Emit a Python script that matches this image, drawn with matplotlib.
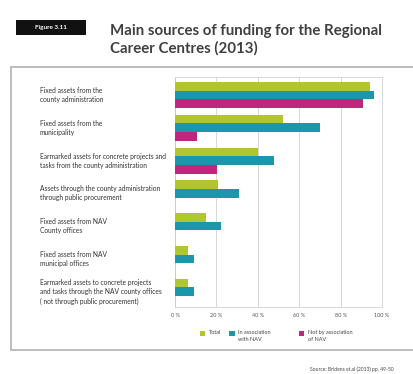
import matplotlib
matplotlib.use("Agg")
import matplotlib.pyplot as plt
from matplotlib.patches import Rectangle
from matplotlib.lines import Line2D
import numpy as np

categories = [
    "Fixed assets from the\ncounty administration",
    "Fixed assets from the\nmunicipality",
    "Earmarked assets for concrete projects and\ntasks from the county administration",
    "Assets through the county administration\nthrough public procurement",
    "Fixed assets from NAV\nCounty offices",
    "Fixed assets from NAV\nmunicipal offices",
    "Earmarked assets to concrete projects\nand tasks through the NAV county offices\n( not through public procurement)",
]
total = [94, 52, 40, 21, 15, 6.5, 6.5]
with_nav = [96, 70, 48, 31, 22, 9, 9]
not_nav = [91, 10.5, 20.5, 0, 0, 0, 0]
series_names = ["Total", "In association\nwith NAV", "Not by association\nof NAV"]
tick_values = [0, 20, 40, 60, 80, 100]
tick_labels = ["0 %", "20 %", "40 %", "60 %", "80 %", "100 %"]

colors = ["#b3c52c", "#1a97aa", "#c1267f"]
W, H = 414, 374
FONT = "Lato"

fig = plt.figure(figsize=(W / 100, H / 100), dpi=100)
fig.patch.set_facecolor("white")


def fx(px):
    return px / W


def fy(py):
    return 1 - py / H


# Outer frame: left, top and bottom edges (right edge runs past the page)
frame_xy = [([11, 414], [66.5, 66.5]), ([11, 11], [66.5, 350]), ([11, 414], [350, 350])]
for xs, ys in frame_xy:
    fig.add_artist(Line2D([fx(v) for v in xs], [fy(v) for v in ys],
                          transform=fig.transFigure, color="#bdbdbd",
                          linewidth=1.4, solid_capstyle="projecting"))

# Figure number badge
badge = Rectangle((fx(16), fy(35)), fx(86) - fx(16), fy(20) - fy(35),
                  transform=fig.transFigure, facecolor="#111111", edgecolor="none")
fig.patches.append(badge)
fig.text(fx(51), fy(27.5), "Figure 3.11", color="white", fontsize=4.6,
         fontweight="bold", family=FONT, ha="center", va="center")

# Title
fig.text(fx(110), fy(39.5), "Main sources of funding for the Regional\nCareer Centres (2013)",
         color="#404040", fontsize=10.8, fontweight="bold", family=FONT,
         ha="left", va="center", linespacing=1.3)

# Plot area
ax = fig.add_axes([fx(175), fy(307), fx(382) - fx(175), fy(77) - fy(307)])
n = len(categories)
y = np.arange(n)
bh = 0.265
ax.barh(y - bh, total, height=bh, color=colors[0], zorder=3)
ax.barh(y, with_nav, height=bh, color=colors[1], zorder=3)
ax.barh(y + bh, not_nav, height=bh, color=colors[2], zorder=3)

ax.set_xlim(0, 100)
ax.set_ylim(6.468, -0.55)
ax.set_xticks(tick_values)
ax.set_xticklabels(tick_labels, fontsize=4, color="#555555", family=FONT)
ax.set_yticks([])
ax.tick_params(axis="x", length=0, pad=4)
ax.grid(axis="x", color="#d8d8d8", linewidth=0.7, zorder=0)
for s in ax.spines.values():
    s.set_color("#d8d8d8")
    s.set_linewidth(0.7)
ax.spines["left"].set_color("#d9c3cf")

# Category labels, left aligned
for i, lab in enumerate(categories):
    yc = fy(77 + (i + 0.55) * 32.8)
    fig.text(fx(40), yc, lab, fontsize=4.75, color="#333333", family=FONT,
             ha="left", va="center", linespacing=1.35)

# Legend
leg_x = [203, 232, 302]
for c, name, lx in zip(colors, series_names, leg_x):
    sq = Rectangle((fx(lx - 2.5), fy(335.5)), fx(5), fy(0) - fy(5),
                   transform=fig.transFigure, facecolor=c, edgecolor="none")
    fig.patches.append(sq)
    fig.text(fx(lx + 6), fy(333) if "\n" not in name else fy(336), name,
             fontsize=4, color="#444444", family=FONT, ha="left", va="center",
             linespacing=1.3)

# Source note
fig.text(fx(394), fy(369), "Source: Bridens et.al (2013) pp. 49-50",
         fontsize=3.6, color="#444444", family=FONT, ha="right", va="center")

fig.savefig("out.png", dpi=100, facecolor="white")
